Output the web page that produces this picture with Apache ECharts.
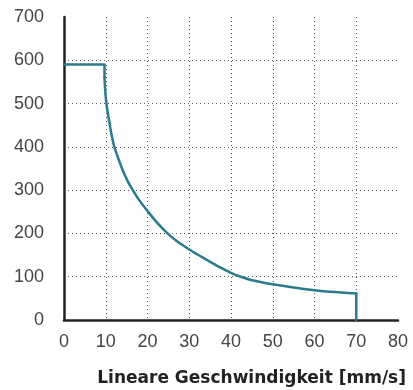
<!DOCTYPE html>
<html>
<head>
<meta charset="utf-8">
<script src="https://cdn.jsdelivr.net/npm/echarts@6/dist/echarts.min.js"></script>
<style>html,body{margin:0;padding:0;background:#fff;}#c{width:413px;height:390px;}</style>
</head>
<body>
<div id="c"></div>
<script>
const speed = [0, 9.7, 9.7, 9.8, 10.0, 10.3, 10.8, 11.3, 12, 13, 14.2, 15.2, 16.4, 18, 20, 22.3, 24.8, 27.3, 30, 32.4, 34.8, 37.3, 40, 42, 45, 50, 55, 60, 65, 70, 70];
const force = [590, 590, 560, 540, 515, 490, 461, 433, 402, 373, 343, 322, 301, 277, 252, 225, 200, 180, 163, 149, 135.5, 122, 109, 101, 92, 82.5, 75, 69, 64.5, 61, 0];
const xTicks = [0, 10, 20, 30, 40, 50, 60, 70, 80];
const yTicks = [0, 100, 200, 300, 400, 500, 600, 700];
const xTitle = 'Lineare Geschwindigkeit [mm/s]';

const pts = speed.map((s, i) => [s, force[i]]);
const n = pts.length;
const lineCol = '#2b7a8d';

const chart = echarts.init(document.getElementById('c'), null, {renderer: 'canvas'});
const fontFam = '"Liberation Sans", Arial, Helvetica, sans-serif';
const mk = (data, smooth) => ({
  type: 'line', data: data, showSymbol: false, smooth: smooth,
  lineStyle: {color: lineCol, width: 2.5, join: 'round', cap: 'round'}, z: 3
});
chart.setOption({
  animation: false,
  backgroundColor: '#fff',
  title: {
    text: xTitle, right: 2, top: 365,
    textStyle: {fontFamily: '"DejaVu Sans", sans-serif', fontSize: 17, fontWeight: 'bold', color: '#222'}
  },
  grid: {left: 64, right: 15, top: 17, bottom: 70, containLabel: false},
  xAxis: {
    type: 'value', min: xTicks[0], max: xTicks[xTicks.length - 1], interval: 10,
    axisLine: {show: true, lineStyle: {color: '#222', width: 2.5}},
    axisTick: {show: false},
    axisLabel: {margin: 13, fontFamily: fontFam, fontSize: 18, color: '#444'},
    splitLine: {show: true, showMinLine: false, showMaxLine: false, lineStyle: {color: '#555', width: 1, type: [1, 3]}}
  },
  yAxis: {
    type: 'value', min: yTicks[0], max: yTicks[yTicks.length - 1], interval: 100,
    axisLine: {show: true, lineStyle: {color: '#222', width: 2.5}},
    axisTick: {show: false},
    axisLabel: {margin: 20, fontFamily: fontFam, fontSize: 18, color: '#444'},
    splitLine: {show: true, showMinLine: false, showMaxLine: false, lineStyle: {color: '#555', width: 1, type: [1, 3]}}
  },
  series: [
    mk(pts.slice(0, 3), false),
    mk(pts.slice(2, n - 1), 0.3),
    mk(pts.slice(n - 2), false)
  ]
});
</script>
</body>
</html>
